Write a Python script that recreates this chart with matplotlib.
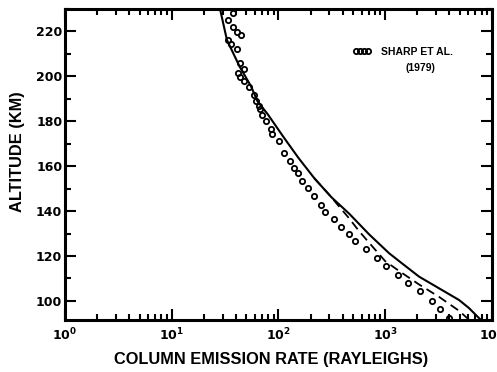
import matplotlib
matplotlib.use("Agg")
import matplotlib.pyplot as plt
import numpy as np
from matplotlib.ticker import FuncFormatter, LogLocator, MultipleLocator

plt.rcParams['font.family'] = 'DejaVu Sans'
plt.rcParams['mathtext.fontset'] = 'custom'
plt.rcParams['mathtext.bf'] = 'DejaVu Sans:bold'
plt.rcParams['mathtext.rm'] = 'DejaVu Sans:bold'

# model, solid curve (rayleighs, km)
solid_x = [28.5, 32.9, 43.2, 55.3, 63.6, 79.4, 111.4, 153.8, 217, 313, 461, 708,
           1090, 1352, 2078, 3197, 4920, 6100, 7290, 7900]
solid_alt = [229.5, 216.2, 204.4, 195.6, 188.9, 183.1, 173.0, 163.7, 154.6, 146.2,
             138.8, 129.6, 121.2, 117.7, 110.8, 105.6, 100.4, 96.8, 93.1, 91.5]

# model, dashed curve
dashed_x = [217, 313, 350, 455, 571, 750, 1000, 1352, 2078, 3197, 4920, 6130]
dashed_alt = [154.6, 146.2, 143.4, 137.0, 131.0, 124.5, 117.7, 113.3, 107.3,
              101.8, 95.6, 91.5]

# Sharp et al. (1979) observations
sharp_x = [37.4, 33.6, 37.4, 41.1, 44.2, 33.6, 36.1, 41.1, 43.2, 47.1, 41.7, 43.9,
           47.1, 52.8, 58.4, 61.9, 65.5, 67.5, 70.4, 76.7, 86.0, 87.9, 100.7, 113.8,
           127.6, 141.1, 152.8, 165.2, 187.9, 216.9, 248.4, 274.8, 328.7, 385.4,
           454.0, 524.5, 660, 829, 1028, 1331, 1648, 2110, 2721, 3266, 3963]
sharp_alt = [228.0, 225.1, 221.8, 219.9, 218.5, 216.2, 214.5, 212.3, 205.9, 203.2,
             201.5, 199.7, 197.8, 195.1, 191.5, 188.9, 187.0, 185.3, 182.7, 180.2,
             176.7, 174.2, 171.1, 165.9, 162.5, 159.4, 156.8, 153.5, 150.4, 146.7,
             142.9, 139.5, 136.6, 132.9, 129.6, 126.7, 122.9, 118.9, 115.5, 111.5,
             107.8, 104.3, 100.1, 96.3, 92.5]

xticks = [1, 10, 100, 1000, 10000]
yticks = [100, 120, 140, 160, 180, 200, 220]

fig = plt.figure(figsize=(4.97, 3.72), dpi=100)
ax = fig.add_axes([0.1308, 0.1398, 0.859, 0.836])

ax.plot(solid_x, solid_alt, color='black', lw=1.5)
ax.plot(dashed_x, dashed_alt, color='black', lw=1.3, ls=(0, (5, 3)))
ax.plot(sharp_x, sharp_alt, ls='none', marker='o', ms=3.8, mfc='none',
        mec='black', mew=1.3, label='SHARP ET AL.')

ax.set_xscale('log')
ax.set_xlim(1, 10000)
ax.set_ylim(91.5, 230)
ax.set_xticks(xticks)
ax.xaxis.set_minor_locator(LogLocator(base=10, subs=np.arange(2, 10)))
ax.xaxis.set_major_formatter(FuncFormatter(lambda v, p: r'$\mathbf{10^{%d}}$' % round(np.log10(v))))
ax.set_yticks(yticks)
ax.yaxis.set_minor_locator(MultipleLocator(10))

for s in ax.spines.values():
    s.set_linewidth(2.2)
ax.tick_params(which='both', direction='in', top=True, right=True, width=1.5)
ax.tick_params(which='major', length=8)
ax.tick_params(which='minor', length=4)
ax.tick_params(axis='y', pad=2, labelsize=9)
ax.tick_params(axis='x', pad=5, labelsize=9)
for lab in ax.get_yticklabels():
    lab.set_fontweight('bold')

ax.set_xlabel('COLUMN EMISSION RATE (RAYLEIGHS)', family='Liberation Sans',
              weight='bold', fontsize=11.8)
ax.set_ylabel('ALTITUDE (KM)', family='Liberation Sans', weight='bold', fontsize=11.8)
ax.xaxis.set_label_coords(0.4836, -0.103)
ax.yaxis.set_label_coords(-0.094, 0.542)

leg = ax.legend(loc='center left', bbox_to_anchor=(0.6745, 0.862), frameon=False,
                numpoints=4, handlelength=1.7, handletextpad=1.0, borderpad=0,
                borderaxespad=0, prop={'family': 'Liberation Sans', 'weight': 'bold', 'size': 7.5})
ax.text(0.832, 0.81, '(1979)', transform=ax.transAxes, ha='center', va='center',
        family='Liberation Sans', weight='bold', fontsize=7.5)

fig.savefig('out.png', dpi=100)
